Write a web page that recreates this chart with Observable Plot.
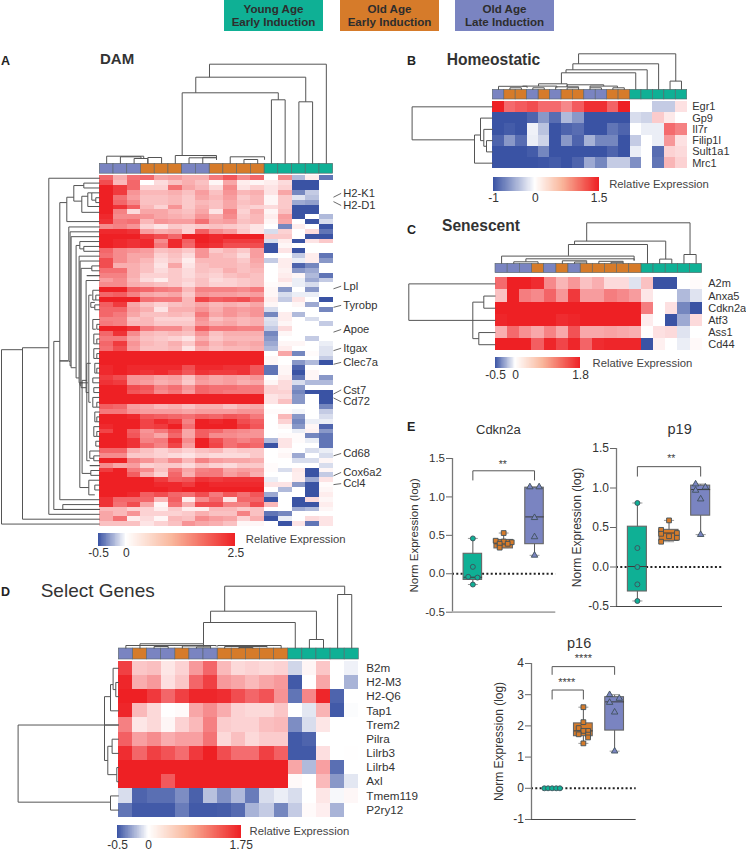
<!DOCTYPE html>
<html><head><meta charset="utf-8">
<script src="https://cdn.jsdelivr.net/npm/d3@7"></script>
<script src="https://cdn.jsdelivr.net/npm/@observablehq/plot@0.6"></script>
<style>
html,body{margin:0;padding:0;background:#fff}
#fig{position:relative;width:746px;height:853px;overflow:hidden;font-family:"Liberation Sans",Arial,sans-serif;color:#333}
#fig svg{position:absolute;background:transparent;overflow:visible}
.t{position:absolute;line-height:1;white-space:nowrap}
.leg{position:absolute;top:0;width:99px;height:30.6px;text-align:center;font-weight:bold;font-size:11.6px;line-height:13.7px;padding-top:1.6px;box-sizing:border-box;color:#2d2d2d}
</style></head><body><div id="fig"></div>
<script>
// ---------- groups ----------
const groupNames=["Young Age|Early Induction","Old Age|Early Induction","Old Age|Late Induction"];
const groupColors={T:"#0fb095",O:"#d67b2a",P:"#7a84c1"};
const damGroups ="PPPOOOPPOOOOTTTTT";
const homeoGroups="POOPOPOOPPOOTTTTT";
const senesGroups="PPPOPOPOOOOOTTTTT";
const selectGroups="POPPOPPOOOOOTTTTT";

// ---------- DAM (values x10) ----------
const damGenes=["H2-K1","H2-D1","Lpl","Tyrobp","Apoe","Itgax","Clec7a","Cst7","Cd72","Cd68","Cox6a2","Ccl4"];
const damLabelRow=[3.6,6.1,22.66,26.6,31.55,35.4,38.3,43.97,46.4,57,60.9,63.2];
const damLeaderRow=[4.4,5.3,23.2,27,32.1,35.9,38.7,44.8,45.6,57.5,61.6,63.4];
const damValues=[
[17,9,16,17,10,11,9,9,15,19,13,17,0,13,-2,2,-4],
[20,8,17,0,4,7,9,7,1,10,2,1,2,4,-5,-5,0],
[25,22,17,5,5,16,10,8,4,13,3,5,3,5,-5,-5,0],
[25,22,12,8,8,9,7,11,7,12,8,9,3,10,-3.5,-1.5,0],
[25,16,11,7,7,8,6,10,8,11,6,8,1,6,-.8,-1.8,0],
[25,17,13,7,7,8,6,8,7,10,7,8,1,6,-2.5,-2.8,0],
[25,23,18,8,5,12,6,9,7,10,6,5,4,6,-5,-5,0],
[25,14,4,10,10,8,7,10,3,14,5,9,1,7,-5,-5,0],
[24,13,13,12,10,9,8,12,9,13,6,8,2,11,-5,0,-2],
[23,15,16,8,12,11,11,16,10,11,7,8,1,10,0,-5,-1],
[13,14,12,5,3,6,5,6,7,6,5,3,0,-3.5,2,0,-5],
[24,24,23,11,9,10,5,18,13,11,6,3,-1,5,0,4,-4],
[25,25,25,22,20,17,25,25,24,25,25,25,6,6,0,-5,-5],
[25,24,23,24,13,24,18,25,24,22,22,22,-1,2,-5,3,6],
[25,24,23,24,15,24,17,24,23,20,20,20,-5,1,0,0,0],
[17,13,12,11,7,8,6,12,6,8,6,11,-5,3,-5,0,0],
[16,13,10,10,5,7,4,12,8,7,4,11,0,0,-1.5,2,-4],
[20,13,10,8,4,6,2,8,8,8,6,10,-1.5,2,-.5,2,-3],
[20,9,9,7,3,10,3,7,8,8,7,9,0,2,-4.5,-3.5,0],
[16,16,9,7,4,6,4,7,6,9,7,8,0,1.5,-3,-2.5,0],
[14,14,9,5,5,6,4,6,5,7,8,7,0,2,1,-2,-4],
[11,13,8,4,2,6,5,7,4,5,6,7,0,3,-.5,-2.5,-1.5],
[13,13,9,8,7,6,4,7,5,5,6,7,.5,1,-.5,-1,0],
[25,25,18,17,15,14,8,14,14,14,13,15,1,-3,0,-3,0],
[17,18,14,10,9,10,6,12,11,11,10,11,1,-1,-.5,-.5,0],
[25,25,25,16,15,15,8,21,18,19,20,16,2,-1.5,3,0,-5],
[18,22,10,7,5,7,8,10,8,9,8,10,1,0,1,-2.5,0],
[17,17,11,9,3,9,9,12,9,12,11,12,-1,0,0,0,-3.5],
[17,15,10,7,7,8,7,15,10,12,10,12,-3.5,2,-2,0,0],
[14,14,7,8,5,5,5,12,7,9,8,9,-.8,2,0,-1,0],
[15,14,8,8,6,6,6,11,9,10,8,9,-1,1,0,0,-1.5],
[25,25,23,15,13,13,9,18,15,15,14,14,-1.5,4,0,0,0],
[17,23,13,8,7,8,7,12,7,9,9,9,-3.5,1,0,0,0],
[15,15,10,7,6,5,3,9,6,8,8,8,-3,0,0,-1.5,0],
[17,22,12,8,7,9,6,12,8,10,9,10,-2.5,1,1,0,-.5],
[16,20,11,7,7,8,3,9,7,8,8,9,-2,2,0,0,-.8],
[25,25,25,25,25,25,25,25,25,25,25,25,0,10,-3.5,.5,-.8],
[25,25,25,25,25,25,25,25,25,25,25,25,1,0,0,0,-1.5],
[25,25,25,25,25,25,25,25,25,25,25,25,1,0,-3,-2,-5],
[24,25,24,24,24,24,20,24,24,23,23,19,-4,1,-4.5,0,0],
[24,25,24,23,24,22,19,23,22,22,23,19,-4,1,-5,1,0],
[22,20,12,12,10,11,7,12,10,11,10,12,0,2,-4,1,-3],
[23,22,12,11,9,10,6,11,10,11,9,10,1,4,-1,-2,-2],
[25,25,20,19,14,16,12,17,16,16,15,15,5,4,-3,0,0],
[25,25,19,18,13,15,11,17,16,15,15,15,5,5,-3.5,-5,-5],
[25,25,25,25,25,25,25,25,25,25,25,25,3,4,-3,0,-5],
[25,25,25,25,25,25,25,25,25,25,25,25,3,7,-3,0,-5],
[18,17,11,10,8,9,7,9,9,7,9,10,0,0,0,0,-3.5],
[15,15,12,11,11,11,10,11,11,11,12,12,.5,.5,-.3,0,-1.5],
[25,25,24,19,18,17,16,18,17,19,18,15,0,8,-3,0,-1],
[25,25,25,21,24,22,14,25,24,25,20,18,0,5,-3.5,-.5,-.5],
[24,25,25,21,22,25,16,25,25,25,22,19,0,1,-3,1,-4.5],
[21,25,18,12,15,19,10,18,17,14,13,12,0,0,-.5,1.5,-3],
[25,25,19,13,10,17,10,18,13,13,12,12,0,.5,.5,-3.5,-4],
[25,25,23,14,15,23,13,25,20,16,14,16,-2,3,.5,-.5,-4],
[25,25,23,17,14,21,11,25,21,16,18,17,-5,3,0,0,-4],
[17,17,9,7,5,7,5,7,8,5,6,6,0,.5,0,-1,-.5],
[13,13,6,6,5,4,3,5,4,4,4,6,0,1,-2.5,0,-1],
[25,25,14,12,9,13,8,14,11,10,10,9,0,0,-1,-1,1],
[13,10,11,5,6,6,4,7,5,4,6,6,.5,0,0,0,-1],
[22,25,15,13,7,15,10,14,15,10,11,10,.5,-1,2.5,-5,1],
[25,25,18,9,5,17,9,15,15,11,13,9,0,0,2,-5,-1.5],
[25,25,25,25,22,18,19,23,22,23,23,23,-.5,0,2,-2.5,3],
[25,25,25,25,24,24,22,25,24,24,24,24,3,3,-3,-5,.5],
[25,25,25,25,25,24,25,25,25,25,25,25,0,-2,0,-5,1],
[25,25,24,18,20,17,16,20,15,19,16,19,-2.5,0,0,-5,2],
[23,17,17,17,8,18,2,13,17,3,17,17,-5,0,-5,4,1],
[23,16,20,10,1,16,9,20,20,14,14,20,8,0,-5,-5,2],
[8,8,5,5,2,6,2,2,8,8,6,7,0,0,-2.5,-2,1],
[10,8,12,5,5,5,6,9,7,7,14,7,-4,-3.5,0,0,0],
[10,16,2,4,1,8,7,13,11,10,5,9,-5,-.5,0,4,3],
[7,7,7,3,5,7,12,10,9,7,1,1,0,-5,3,-4,3]];
// dendrogram merges: [position a, position b, merge height, child height a, child height b]
const damColTree=[[7.49,16,99.6,86.6,0],[6.49,14.5,86.6,71,62],[5.5,12.5,71,8,64],[12,13,64,0,0],[14,15,62,0,0],
[0,2.7,7.6,0,5],[1,2.5,7,0,5],[2,3,5.3,0,0],[3,4,6.3,0,0],[5,8,8.3,0,5],[6,8,6,0,4],[7,8,6.5,0,4],[9,11.5,7,0,4],[10,11,4.3,0,0]];
const damRowTree=[[35.2,71,98.3,77.3,0],[34.8,70,77.3,51,0],[0,69,51,0,0],[33.5,68,46,40,0],[5,66,40,33,0],[37.5,37.5,40,31.7,31.7],[67,68,37,0,0],
[3.9,8.9,33,26,0],[1.5,4.7,26,16,18],[1,2,16,0,0],[3.7,7,18,12,0],[3,5.8,12,8,0],[3,4.5,8,0,4],[4,5,4,0,0],
[10,37.6,31,0,29.7],[11,38.5,29.7,0,28.7],[12,38.9,28.7,0,24],[13.8,41,23.7,20,20.7],[13,14.5,20,0,16],[14,15,16,0,0],
[16,42,20.7,0,17],[17,42.5,19.7,0,18.7],[18.5,43,18.7,8,13.7],[18,19,8,0,0],[20,20,13,0,0],[21,44,13.7,0,11],[24,46,11,8,9],
[23,25,7,0,4],[24,25,4,0,0],[26,27,5,0,0],[25.5,26.5,9,5,5],[29,31,7,0,4],[30,31,3,0,0],[32,34,6,0,3],[33,34,3,0,0],[35,37,6,0,3],[36,37,3,0,0],
[38,40,5,0,3],[39,40,3,0,0],[41,42,7,0,0],[43,44,6,0,0],[45,47,7,0,3],[46,47,3,0,0],[48,50,5,0,3],[49,50,3,0,0],[51,53,6,0,3],[52,53,3,0,0],[54,55,4,0,0],
[42,63.5,20,12,11],[41.5,60.6,17.7,13,9],[38,58,13,9,10],[56,57.5,10,0,6],[57,58,6,0,0],[59,59,10,0,0],[60,61,9,0,0],[62,65,11,0,5],[63,64,5,0,0]];

// ---------- Homeostatic ----------
const homeoGenes=["Egr1","Gp9","Il7r","Filip1l","Sult1a1","Mrc1"];
const homeoValues=[
[1.5,1,1.1,1.2,1,1,.8,1.1,1.4,1.4,1.05,1.5,0,0,-.3,-.3,.2],
[-1,-1,-1,-.9,-.6,-.85,-.4,-.6,-1,-1,-1,-1,-.2,-.25,.35,.15,0],
[-1,-.95,-1,-.08,-.35,-1,-.9,-.85,-1,-1,-.8,-.9,0,-.1,-.1,1,.85],
[-.9,-.6,-.85,-.1,-.25,-1,-.6,-.9,-.45,-.7,-.7,-1,-.3,0,-.1,.7,.2],
[-1,-1,-1,-.95,-.7,-1,-1,-1,-1,-1,-.9,-1,-.1,0,-.85,.3,.25],
[-1,-1,-1,-1,-.98,-.95,-1,-.9,-.5,-.7,-.3,-.3,-.65,0,-.8,.5,.3]];
const homeoColTree=[[7,15.5,36,26,8.7],[6.5,14,26,20,0],[5.9,13,20,17,0],[5.5,12,17,6,0],[15,16,8.7,0,0],
[0,2.5,3.5,0,2],[1,2,2,0,0],[2.1,5.1,3.7,3.5,2],[3.5,6,6,3.7,3],[3,4,2,0,0],[5,7,3,0,2],[6,7,2,0,0],[8,10.4,3.7,2,2],[8,9,2,0,0],[10,11,2,0,0],[6,9.2,5,3,3.7]];
const homeoRowTree=[[0,2.93,80.7,0,18.3],[2.5,5,18.3,12.3,0],[1,3,12.3,0,9],[2,3.5,9,0,6.3],[3,4,6.3,0,0]];

// ---------- Senescent ----------
const senesGenes=["A2m","Anxa5","Cdkn2a","Atf3","Ass1","Cd44"];
const senesValues=[
[1.2,1.8,1.8,1.7,.95,.6,.85,.5,.65,.3,.3,-.08,.5,-.5,-.5,0,.03],
[.5,1.8,1.05,.95,1.25,.85,1.6,.8,.8,1.05,.95,.8,.2,0,0,-.2,-.08],
[1.8,1.8,1.8,1.8,1.8,1.8,1.8,1.8,1.8,1.8,1.8,1.8,1.05,0,.25,-.35,-.5],
[1.75,1.8,1.8,1.8,1.8,1.7,1.75,1.8,1.8,1.8,1.8,1.8,.15,0,-.5,-.25,.3],
[.65,1.2,.9,.7,1,.7,1.4,.7,.7,.75,.7,.65,.02,.25,.3,-.08,0],
[1.8,1.8,1.8,1.3,1.75,1.5,1.75,1.25,1.7,1.75,1.75,1.75,-.5,.12,0,-.05,.05]];
const senesColTree=[[7,15.5,41,22.7,9.3],[6,13.5,22.7,19.3,4.7],[5.5,12,19.3,8,0],[13,14,4.7,0,0],[15,16,9.3,0,0],
[0,10.9,7.7,0,3.5],[2,10.9,5,2,3],[1,3,2,0,0],[5,7,3,0,2],[6,7,1.8,0,0],[8,10,2.5,0,1.5],[9,10,1.5,0,0]];
const senesRowTree=[[0,3,86.7,0,0],[1.5,4.5,22.7,11.7,16.7],[1,2,11.7,0,0],[4,5,16.7,0,0]];

// ---------- Select genes ----------
const selectGenes=["B2m","H2-M3","H2-Q6","Tap1","Trem2","Pilra","Lilrb3","Lilrb4","Axl","Tmem119","P2ry12"];
const selectValues=[
[1.5,.45,.5,.2,.35,.8,1.2,.55,.3,.35,.3,.35,-.12,.08,.45,0,-.04],
[1.7,.65,.8,.25,.45,1.2,1.5,.8,.7,.55,.7,.8,-.48,.01,.7,0,-.22],
[1.75,1.75,1.55,1.2,1.5,1.7,1.7,1.65,1.4,1.2,1.35,.85,-.4,.95,1.7,-.45,0],
[1.7,.55,.3,.01,.04,.7,.9,.65,.35,.3,.3,.45,0,-.07,.6,-.48,-.01],
[1,.2,.3,.07,.35,.55,1,.4,.35,.35,.5,.55,-.33,-.1,.2,0,0],
[1.25,.75,.9,.65,.75,.75,1.1,.3,.5,.3,.4,.4,-.48,-.45,0,0,0],
[1.65,1.2,1.5,1.35,1.15,1.55,1.75,1.4,1.15,1.15,1.5,1.25,-.48,-.48,.25,0,.01],
[1.75,1.75,1.75,1.75,1.75,1.75,1.75,1.75,1.75,1.75,1.75,1.75,.7,-.2,.75,-.42,0],
[1.75,1.75,1.75,1.3,1.75,1.75,1.75,1.75,1.75,1.75,1.75,1.75,.05,0,.55,-.3,-.07],
[-.1,-.45,-.42,-.42,-.33,-.46,-.18,-.32,-.2,-.38,-.1,-.05,-.1,0,.2,-.02,.06],
[-.4,-.48,-.48,-.48,-.38,-.48,-.48,-.47,-.43,-.22,-.15,-.35,-.15,.04,.13,-.22,0]];
const selectColTree=[[7,15.5,62.3,37.3,54],[6,13.5,37.3,26,9],[5.5,12,26,4.7,0],[15,16,54,0,0],[13,14,9,0,0],
[0,6.4,3,0,2],[1,5.5,4.7,0,2],[2,3,2,0,0],[4,6,2.5,0,1.5],[5,6,1.5,0,0],[6.5,11,3,2,0],[7,10,2,0,1],[8,9,1,0,0]];
const selectRowTree=[[4,9.44,100.7,14.3,8.3],[9,10,8.3,0,0],[2,6.5,14.3,8.3,11],[1.15,3,8.3,5.7,0],[0,1.5,5.7,0,3],[1,2,3,0,0],[5.5,7.5,11,6.7,2],[5,6,6.7,0,0],[7,8,2,0,0],[4,4,14.3,0,0]];

// ---------- box plots: [offset from group centre, value] ----------
const cdkn2aYoung=[[0,.46],[0,.09],[-.15,-.04],[.15,-.05],[0,-.14]];
const cdkn2aOldEarly=[[0,.53],[-.26,.43],[0,.42],[.26,.41],[.13,.39],[-.13,.39],[-.13,.34]];
const cdkn2aOldLate=[[-.15,1.13],[.15,1.13],[0,.73],[0,.48],[0,.24]];
const cdkn2aStats=[[-.14,-.08,-.045,.26,.46],[.34,.33,.39,.44,.53],[.24,.385,.74,1.12,1.13]];
const p19Young=[[0,.81],[0,.24],[0,0],[0,-.22],[0,-.43]];
const p19OldEarly=[[0,.59],[-.25,.47],[.25,.43],[-.25,.42],[0,.39],[.25,.37],[-.25,.32]];
const p19OldLate=[[-.16,1.05],[.15,1.01],[-.16,.97],[0,.86],[0,.41]];
const p19Stats=[[-.43,-.31,.006,.51,.81],[.32,.33,.43,.47,.59],[.41,.65,.98,1.03,1.05]];
const p16Young=[[-.25,0],[-.13,0],[0,0],[.13,0],[.25,0]];
const p16OldEarly=[[0,2.6],[0,2.12],[-.15,1.93],[.15,1.84],[0,1.84],[-.15,1.73],[.15,1.72],[.15,1.63],[0,1.44]];
const p16OldLate=[[-.16,3],[.15,2.88],[-.16,2.75],[0,2.44],[0,1.19]];
const p16Stats=[[0,0,0,0,0],[1.44,1.67,1.84,2.08,2.6],[1.19,1.85,2.77,2.92,3]];

const blue="#3a53a4",red="#ee2024",peach="#f9b79c",font='"Liberation Sans",Arial,sans-serif',ink="#333";
const fig=document.getElementById("fig");
const place=(svg,l,t)=>{svg.style.left=l+"px";svg.style.top=t+"px";fig.append(svg)};
function label(str,x,base,size,weight,color){const d=document.createElement("div");d.className="t";d.textContent=str;
  d.style.cssText=`left:${x}px;top:${base-.847*size}px;font-size:${size}px;font-weight:${weight||"normal"};color:${color||ink}`;fig.append(d);return d}

function links(tree,mapPair){const s=[];for(const [a,b,h,ha,hb] of tree){s.push(mapPair(a,h,b,h),mapPair(a,h,a,ha),mapPair(b,h,b,hb))}return s}

function heat(o){
  const m=o.values.length,n=o.values[0].length;
  const L=o.left,T=o.top,W=o.width,H=o.height;
  const colW=(o.x1-o.x0)/n,rowH=(o.y1-o.y0)/m;
  const cells=o.values.flatMap((r,j)=>r.map((v,c)=>({c,r:j,v:v*(o.factor||1)})));
  const annA=(o.annTop-o.y0)/rowH,annB=(o.annBottom-o.y0)/rowH;
  const colSeg=links(o.colTree,(a,h,b,k)=>({x1:a+.5,y1:annA-h/rowH,x2:b+.5,y2:annA-k/rowH}));
  const rowSeg=links(o.rowTree,(a,h,b,k)=>({y1:a+.5,x1:-h/colW,y2:b+.5,x2:-k/colW}));
  const ann=[...o.groups].map((g,c)=>({g,c}));
  const marks=[
    Plot.rect(cells,{x1:"c",x2:d=>d.c+1,y1:"r",y2:d=>d.r+1,fill:"v",shapeRendering:"crispEdges"}),
    ...Object.keys(groupColors).map(g=>Plot.rect(ann.filter(d=>d.g===g),{x1:"c",x2:d=>d.c+1,y1:()=>annA,y2:()=>annB,fill:groupColors[g],stroke:"#5a6468",strokeWidth:.6})),
    Plot.link(colSeg,{x1:"x1",y1:"y1",x2:"x2",y2:"y2",stroke:"#555",strokeWidth:1}),
    Plot.link(rowSeg,{x1:"x1",y1:"y1",x2:"x2",y2:"y2",stroke:"#555",strokeWidth:1})
  ];
  if(o.leaders){
    marks.push(Plot.link(o.genes,{x1:()=>n+.02,x2:()=>n+.58,y1:(d,i)=>o.leaders[i],y2:(d,i)=>o.labelRow[i],stroke:"#444",strokeWidth:.8}));
    marks.push(Plot.text(o.genes,{x:()=>n,dx:o.labelDx,y:(d,i)=>o.labelRow[i],textAnchor:"start",fontSize:o.fontSize,fill:ink}));
  } else {
    marks.push(Plot.text(o.genes,{x:()=>n,dx:o.labelDx,y:(d,i)=>i+.5,textAnchor:"start",fontSize:o.fontSize,fill:ink}));
  }
  const svg=Plot.plot({width:W,height:H,margin:0,style:{fontFamily:font,background:"transparent"},
    x:{domain:[0,n],range:[o.x0-L,o.x1-L],axis:null},
    y:{domain:[0,m],range:[o.y0-T,o.y1-T],axis:null},
    color:{type:"linear",domain:o.domain,range:[blue,"#ffffff",red]},
    marks});
  place(svg,L,T);
}

function colorbar(o){
  const [a,b,c]=o.ticks,steps=d3.range(0,200).map(i=>a+(c-a)*i/200),w=(c-a)/200;
  const L=o.px[0]-14,lab=16,h=o.y1-o.y0+lab;
  const svg=Plot.plot({width:o.textX-L+115,height:h,marginLeft:0,marginRight:0,marginTop:0,marginBottom:lab,
    style:{fontFamily:font,background:"transparent"},
    x:{type:"linear",domain:[a,b,c],range:o.px.map(p=>p-L),axis:null},
    y:{domain:[0,1],axis:null},
    color:{type:"linear",domain:[a,b,b+(c-b)*.42,c],range:[blue,"#ffffff",peach,red]},
    marks:[
      Plot.rect(steps,{x1:d=>d,x2:d=>Math.min(d+w*1.5,c),y1:()=>0,y2:()=>1,fill:d=>d+w/2,shapeRendering:"crispEdges"}),
      Plot.axisX({ticks:o.ticks,tickSize:0,tickPadding:2,tickFormat:d=>String(d),fontSize:o.tickSize||12,anchor:"bottom",fill:ink,label:null}),
      Plot.text(["Relative Expression"],{x:()=>c,y:()=>.5,dx:o.textX-o.px[2],textAnchor:"start",fontSize:11.3,fill:"#444"})
    ]});
  place(svg,L,o.y0);
}

function box(o){
  const ml=46,mr=5,mt=o.marginTop,mb=4;
  const W=ml+o.end-o.axis+mr,H=mt+o.yBottom-o.yTop+mb;
  const xd=[-.66,2.69],hw=.3,cap=.16;
  const keys=["T","O","P"],sym={T:"circle",O:"square",P:"triangle"};
  const stats=o.stats.map((s,i)=>({i,low:s[0],q1:s[1],med:s[2],q3:s[3],high:s[4]}));
  const drawn=stats.filter(d=>d.high>d.low);
  const marks=[
    Plot.ruleY([0],{stroke:"#222",strokeWidth:2,strokeDasharray:"2,2.3"}),
    Plot.ruleX([xd[0]],{stroke:"#777",strokeWidth:1.3}),
    Plot.ruleY([o.domain[0]],{stroke:o.baseStroke,strokeWidth:o.baseWidth}),
    Plot.link(drawn,{x1:"i",x2:"i",y1:"low",y2:"high",stroke:"#555",strokeWidth:1}),
    Plot.link(drawn,{x1:d=>d.i-cap,x2:d=>d.i+cap,y1:"high",y2:"high",stroke:"#999",strokeWidth:1}),
    Plot.link(drawn,{x1:d=>d.i-cap,x2:d=>d.i+cap,y1:"low",y2:"low",stroke:"#999",strokeWidth:1}),
    ...drawn.map(d=>Plot.rect([d],{x1:e=>e.i-hw,x2:e=>e.i+hw,y1:"q1",y2:"q3",fill:groupColors[keys[d.i]],stroke:"#666",strokeWidth:1.1})),
    Plot.link(drawn,{x1:d=>d.i-hw,x2:d=>d.i+hw,y1:"med",y2:"med",stroke:"#3a3a3a",strokeWidth:1}),
    ...o.points.map((pts,i)=>Plot.dot(pts,{x:d=>i+d[0],y:d=>d[1],symbol:sym[keys[i]],r:i===1?2.7:i===2?2.4:2.5,fill:groupColors[keys[i]],stroke:"#40505a",strokeWidth:.9})),
    ...o.sig.flatMap(([a,b,y,da,db,str,ty,tx])=>[
      Plot.line([[a,da],[a,y],[b,y],[b,db]],{x:"0",y:"1",stroke:"#555",strokeWidth:1,curve:"linear"}),
      Plot.text([str],{x:()=>tx,y:()=>ty,fontSize:str.length>2?11:10.5,fill:"#444"})
    ]),
    Plot.axisY({anchor:"left",ticks:o.ticks,tickSize:6,tickPadding:1.5,fontSize:o.tickFont||11.5,tickFormat:o.fmt,fill:ink,stroke:"#666",
      label:"Norm Expression (log)",labelAnchor:"center",labelArrow:"none",labelOffset:o.labelOffset})
  ];
  const svg=Plot.plot({width:W,height:H,marginLeft:ml,marginRight:mr,marginTop:mt,marginBottom:mb,
    style:{fontFamily:font,background:"transparent"},
    x:{domain:xd,axis:null},y:{domain:o.domain,axis:null},marks});
  place(svg,o.axis-ml,o.yTop-mt);
}

// ---------- header legend ----------
[[224,"T"],[340,"O"],[455,"P"]].forEach(([x,k],i)=>{
  const d=document.createElement("div");d.className="leg";d.style.left=x+"px";d.style.background=groupColors[k];
  const [l1,l2]=groupNames[i].split("|");d.append(l1,document.createElement("br"),l2);fig.append(d);
});

// ---------- panel letters and headings ----------
label("A",1,66,12.5,"bold","#222");label("B",407,66,12.5,"bold","#222");label("C",407,235,12.5,"bold","#222");label("D",1,597,12.5,"bold","#222");label("E",407,432,12.5,"bold","#222");
label("DAM",100,64,15,"bold");label("Homeostatic",446.7,65.3,15.6,"bold");label("Senescent",442,231.7,15.6,"bold");label("Select Genes",40.7,597,19,"normal");

// ---------- heatmaps ----------
heat({values:damValues,factor:.1,genes:damGenes,leaders:damLeaderRow,labelRow:damLabelRow,groups:damGroups,domain:[-.5,0,2.5],
  left:0,top:55,width:400,height:476,x0:99.3,x1:332.7,y0:175.3,y1:526,annTop:163.3,annBottom:173.2,colTree:damColTree,rowTree:damRowTree,labelDx:10,fontSize:11.2});
heat({values:homeoValues,genes:homeoGenes,groups:homeoGroups,domain:[-1,0,1.5],
  left:405,top:48,width:341,height:125,x0:492.3,x1:686.7,y0:100.7,y1:168.3,annTop:89.3,annBottom:99,colTree:homeoColTree,rowTree:homeoRowTree,labelDx:5,fontSize:11});
heat({values:senesValues,genes:senesGenes,groups:senesGroups,domain:[-.5,0,1.8],
  left:405,top:215,width:341,height:140,x0:495,x1:701.7,y0:277.3,y1:350.3,annTop:263.3,annBottom:272.7,colTree:senesColTree,rowTree:senesRowTree,labelDx:6,fontSize:11});
heat({values:selectValues,genes:selectGenes,groups:selectGroups,domain:[-.5,0,1.75],
  left:10,top:580,width:405,height:240,x0:118.3,x1:358.3,y0:660.7,y1:816.7,annTop:648,annBottom:659,colTree:selectColTree,rowTree:selectRowTree,labelDx:7.5,fontSize:11.7});

// ---------- colour bars ----------
colorbar({ticks:[-.5,0,2.5],px:[98,125.7,235.3],y0:532.7,y1:545.3,textX:245.3});
colorbar({ticks:[-1,0,1.5],px:[493.3,535,599],y0:176.7,y1:190.7,textX:609});
colorbar({ticks:[-.5,0,1.8],px:[495,515,580],y0:357.3,y1:368.7,textX:592});
colorbar({ticks:[-.5,0,1.75],px:[117,148,240.7],y0:825,y1:837.7,textX:249});

// ---------- box plots ----------
const one=d=>d.toFixed(1);
box({axis:451.7,end:555,yTop:458,yBottom:611.7,marginTop:6,domain:[-.5,1.5],ticks:[-.5,0,.5,1,1.5],fmt:one,labelOffset:43,baseStroke:"#aaa",baseWidth:1.8,
  stats:cdkn2aStats,points:[cdkn2aYoung,cdkn2aOldEarly,cdkn2aOldLate],sig:[[0,2,1.34,1.22,1.22,"**",1.42,.97]]});
box({axis:615.7,end:721.7,yTop:448,yBottom:606,marginTop:6,domain:[-.5,1.5],ticks:[-.5,0,.5,1,1.5],fmt:one,labelOffset:44,baseStroke:"#444",baseWidth:1,tickFont:12,
  stats:p19Stats,points:[p19Young,p19OldEarly,p19OldLate],sig:[[0,2,1.27,1.15,1.15,"**",1.37,1.07]]});
box({axis:531,end:635.7,yTop:663,yBottom:819,marginTop:14,domain:[-1,4],ticks:[-1,0,1,2,3,4],fmt:d=>String(d),labelOffset:37,baseStroke:"#444",baseWidth:1,tickFont:12,
  stats:p16Stats,points:[p16Young,p16OldEarly,p16OldLate],sig:[[0,2,3.9,3.65,3.65,"****",4.15,1],[0,1,3.15,2.86,2.86,"****",3.39,.47]]});
label("Cdkn2a",476,434.5,13,"normal").style.color="#333";
label("p19",667.5,434.5,14.5,"normal");
label("p16",567,648,14.5,"normal");
</script></body></html>
